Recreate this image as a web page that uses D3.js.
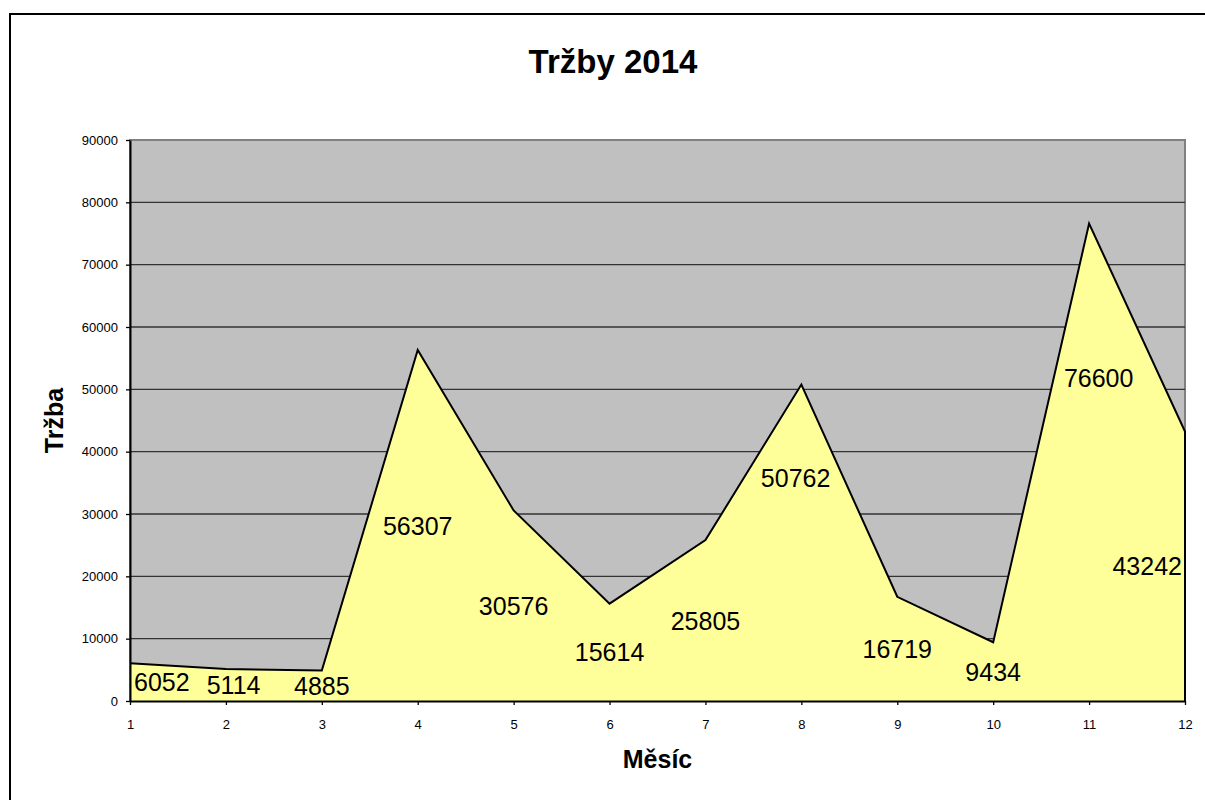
<!DOCTYPE html>
<html>
<head>
<meta charset="utf-8">
<script src="https://cdn.jsdelivr.net/npm/d3@7"></script>
<style>
  body { margin: 0; background: #fff; }
  svg { display: block; font-family: Arial, "Liberation Sans", sans-serif; }
</style>
</head>
<body>
<svg id="chart" width="1205" height="800"></svg>
<script>
// Tržby 2014 - monthly revenue (area chart)

const months = [1, 2, 3, 4, 5, 6, 7, 8, 9, 10, 11, 12];
const revenue = [6052, 5114, 4885, 56307, 30576, 15614, 25805, 50762, 16719, 9434, 76600, 43242];
const yTicks = [0, 10000, 20000, 30000, 40000, 50000, 60000, 70000, 80000, 90000];

const titleText = "Tržby 2014";
const xTitle = "Měsíc";
const yTitle = "Tržba";

const width = 1205;
const height = 800;
const plot = {left: 130, right: 1185, top: 140, bottom: 701};

const svg = d3.select("#chart");

// outer chart border (runs off the right/bottom edge like the original)
svg.append("rect")
    .attr("x", 10).attr("y", 14)
    .attr("width", 1300).attr("height", 900)
    .attr("fill", "#fff")
    .attr("stroke", "#000")
    .attr("stroke-width", 2);

const x = d3.scaleLinear()
    .domain([1, 12])
    .range([plot.left, plot.right]);

const y = d3.scaleLinear()
    .domain([0, 90000])
    .range([plot.bottom, plot.top]);

// plot background
svg.append("rect")
    .attr("x", plot.left).attr("y", plot.top)
    .attr("width", plot.right - plot.left)
    .attr("height", plot.bottom - plot.top)
    .attr("fill", "#c0c0c0")
    .attr("stroke", "#808080")
    .attr("stroke-width", 2);

// gridlines
svg.append("g")
    .selectAll("line")
    .data(yTicks.filter(d => d > 0 && d < 90000))
    .join("line")
    .attr("x1", plot.left).attr("x2", plot.right)
    .attr("y1", d => y(d)).attr("y2", d => y(d))
    .attr("stroke", "#333")
    .attr("stroke-width", 1.3);

const data = months.map((m, i) => ({month: m, value: revenue[i]}));

// the yellow area
const area = d3.area()
    .x(d => x(d.month))
    .y0(y(0))
    .y1(d => y(d.value));

svg.append("path")
    .datum(data)
    .attr("d", area)
    .attr("fill", "#ffff99");

// outline of the area (top line + right edge)
const outline = d3.line()
    .x(d => d[0])
    .y(d => d[1]);

const outlinePts = data.map(d => [x(d.month), y(d.value)]);
outlinePts.push([x(12), y(0)]);

svg.append("path")
    .datum(outlinePts)
    .attr("d", outline)
    .attr("fill", "none")
    .attr("stroke", "#000")
    .attr("stroke-width", 2)
    .attr("stroke-linejoin", "miter");

// axes
const yAxis = svg.append("g")
    .attr("transform", `translate(${plot.left},0)`)
    .call(d3.axisLeft(y)
        .tickValues(yTicks)
        .tickFormat(d => d)
        .tickSize(4)
        .tickSizeOuter(0)
        .tickPadding(8));

const xAxis = svg.append("g")
    .attr("transform", `translate(0,${plot.bottom})`)
    .call(d3.axisBottom(x)
        .tickValues(months)
        .tickFormat(d => d)
        .tickSize(4)
        .tickSizeOuter(0)
        .tickPadding(15));

[yAxis, xAxis].forEach(g => {
    g.selectAll("text")
        .attr("font-size", 13)
        .attr("font-family", "Arial, 'Liberation Sans', sans-serif")
        .attr("fill", "#000");
    g.selectAll("line").attr("stroke", "#000").attr("stroke-width", 1.3);
    g.select(".domain").attr("stroke", "#000").attr("stroke-width", 2);
});

// data labels - Excel puts them halfway up the area; a few were moved
const labelShift = {2: [0.08, 0], 8: [-0.06, 35800], 11: [0.1, 51800]};

svg.append("g")
    .selectAll("text")
    .data(data)
    .join("text")
    .attr("x", d => {
        const s = labelShift[d.month];
        return x(d.month + (s ? s[0] : 0));
    })
    .attr("y", d => {
        const s = labelShift[d.month];
        return y(s && s[1] ? s[1] : d.value / 2);
    })
    .attr("dy", "0.36em")
    .attr("text-anchor", d => d.month === 1 ? "start" : d.month === 12 ? "end" : "middle")
    .attr("dx", d => d.month === 1 ? 4 : d.month === 12 ? -3 : 0)
    .attr("font-size", 25)
    .attr("fill", "#000")
    .text(d => d.value);

// titles
svg.append("text")
    .attr("x", 613).attr("y", 73)
    .attr("text-anchor", "middle")
    .attr("font-size", 33)
    .attr("font-weight", "bold")
    .text(titleText);

svg.append("text")
    .attr("x", (plot.left + plot.right) / 2).attr("y", 768)
    .attr("text-anchor", "middle")
    .attr("font-size", 25)
    .attr("font-weight", "bold")
    .text(xTitle);

svg.append("text")
    .attr("transform", `translate(63,${(plot.top + plot.bottom) / 2}) rotate(-90)`)
    .attr("text-anchor", "middle")
    .attr("font-size", 25)
    .attr("font-weight", "bold")
    .text(yTitle);
</script>
</body>
</html>
